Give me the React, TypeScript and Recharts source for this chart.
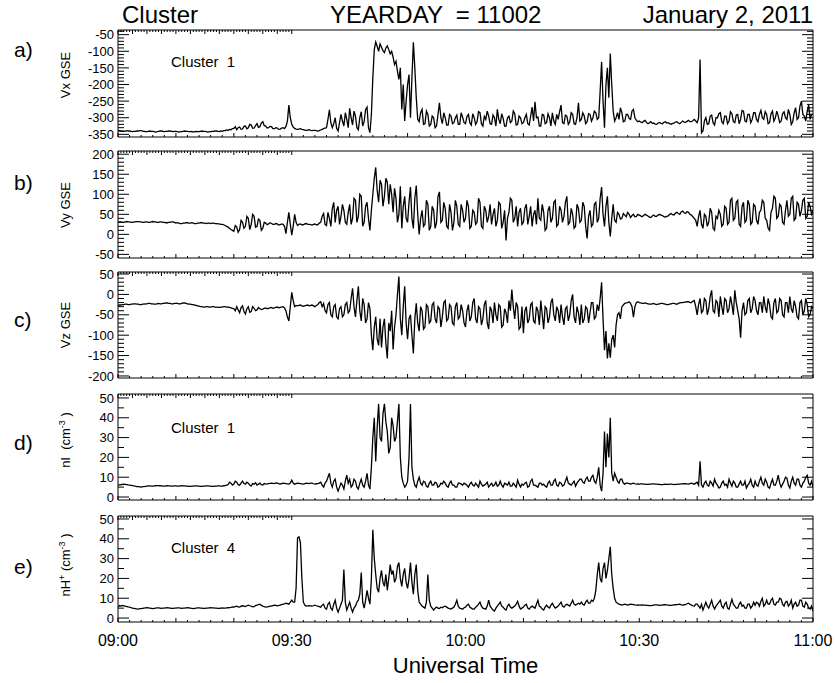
import React from 'react';
import { LineChart, Line, XAxis, YAxis } from 'recharts';

// Cluster plasma moments, 2 Jan 2011, 09:00-11:00 UT, one sample every 15 s
const STEP = 0.25; // minutes between samples
const timeLabels = ['09:00', '09:30', '10:00', '10:30', '11:00'];
const labelTicks = [0, 30, 60, 90, 120];

const vxGse = [
  -338, -339, -340, -341, -341, -340, -339, -340, -340, -341, -342, -341, -341, -340, -340, -339, -339, -340, -341, -342,
  -342, -341, -340, -341, -341, -342, -343, -342, -341, -340, -340, -341, -342, -341, -341, -340, -340, -341, -342, -341,
  -341, -342, -343, -342, -342, -341, -340, -341, -341, -342, -342, -341, -343, -342, -341, -342, -342, -341, -340, -341,
  -341, -342, -343, -342, -342, -341, -341, -340, -340, -341, -342, -340, -341, -339, -339, -337, -338, -335, -336, -333,
  -332, -327, -336, -330, -328, -335, -334, -326, -325, -333, -330, -320, -322, -332, -331, -324, -318, -329, -327, -316,
  -312, -324, -325, -331, -330, -326, -327, -333, -333, -330, -331, -335, -334, -331, -330, -333, -326, -310, -262, -300,
  -320, -328, -332, -334, -335, -334, -333, -335, -336, -337, -338, -337, -336, -338, -339, -338, -338, -339, -340, -339,
  -337, -335, -333, -331, -330, -305, -276, -315, -330, -318, -300, -332, -340, -315, -290, -310, -325, -285, -305, -330,
  -272, -300, -322, -280, -295, -330, -336, -300, -282, -325, -312, -275, -268, -330, -345, -290, -180, -95, -72, -85,
  -100, -78, -88, -98, -104, -90, -84, -95, -108, -100, -118, -140, -130, -160, -185, -150, -275, -200, -310, -250,
  -200, -170, -300, -180, -73, -150, -240, -305, -312, -285, -275, -320, -318, -280, -290, -325, -320, -295, -300, -330,
  -325, -290, -255, -300, -318, -285, -300, -322, -322, -290, -295, -318, -315, -300, -292, -320, -320, -285, -298, -315,
  -318, -296, -290, -315, -322, -288, -300, -320, -312, -282, -285, -318, -325, -296, -305, -280, -295, -318, -320, -292,
  -300, -325, -275, -305, -318, -288, -302, -325, -325, -300, -295, -315, -310, -280, -288, -322, -320, -295, -300, -318,
  -315, -300, -290, -318, -322, -295, -268, -310, -252, -300, -298, -325, -325, -290, -292, -318, -315, -288, -300, -325,
  -285, -310, -320, -290, -305, -282, -262, -315, -318, -292, -295, -320, -312, -285, -290, -318, -320, -300, -255, -310,
  -305, -285, -295, -318, -312, -288, -290, -310, -300, -280, -285, -305, -300, -220, -132, -250, -330, -200, -150, -240,
  -107, -200, -280, -310, -300, -285, -305, -270, -285, -312, -310, -290, -290, -302, -305, -280, -275, -300, -308, -312,
  -310, -313, -315, -311, -308, -314, -318, -315, -312, -317, -316, -319, -320, -316, -314, -317, -318, -314, -312, -316,
  -315, -318, -320, -317, -316, -313, -312, -316, -318, -314, -310, -313, -314, -311, -308, -312, -312, -309, -305, -310,
  -315, -300, -125, -345, -340, -310, -300, -320, -318, -295, -292, -315, -322, -300, -300, -288, -285, -312, -318, -295,
  -295, -318, -310, -282, -288, -312, -315, -292, -290, -318, -305, -278, -280, -310, -312, -290, -290, -315, -305, -285,
  -285, -305, -312, -290, -278, -300, -305, -282, -290, -318, -315, -288, -280, -310, -300, -280, -295, -315, -310, -288,
  -282, -300, -305, -275, -290, -320, -312, -285, -270, -305, -300, -265, -250, -290, -295, -310, -280, -262, -305, -290,
  -290,
];

const vyGse = [
  30, 31, 31, 30, 30, 31, 32, 31, 31, 30, 30, 31, 31, 32, 32, 31, 31, 30, 30, 31,
  31, 30, 30, 31, 32, 31, 31, 30, 30, 31, 31, 30, 30, 29, 29, 30, 30, 31, 31, 30,
  28, 29, 28, 27, 27, 28, 28, 29, 29, 28, 28, 29, 28, 27, 27, 28, 28, 29, 29, 28,
  28, 27, 28, 28, 27, 28, 28, 27, 27, 26, 26, 25, 25, 24, 22, 20, 18, 15, 12, 10,
  8, 22, 18, 5, 12, 35, 30, 15, 20, 45, 40, 12, 25, 50, 45, 18, 20, 38, 35, 10,
  15, 30, 28, 24, 26, 29, 27, 25, 25, 27, 26, 23, 24, 26, 25, 20, 2, 30, 55, 25,
  -2, 20, 50, 30, 22, 25, 26, 24, 24, 26, 27, 25, 25, 24, 23, 25, 26, 24, 24, 28,
  30, 45, 52, 25, 22, 55, 40, 20, 65, 80, 30, 60, 70, 25, 45, 75, 60, 30, 25, 55,
  75, 25, 40, 90, 85, 30, 45, 100, 95, 20, 30, 70, 80, 40, 10, 60, 100, 140, 167, 110,
  80, 135, 125, 70, 95, 140, 130, 75, 125, 100, 55, 115, 90, 30, 50, 120, 15, 70, 95, 40,
  30, 80, 118, 40, 15, 90, 122, 50, 0, 40, 60, 20, 25, 85, 75, 10, 20, 70, 60, 15,
  30, 95, 106, 30, 35, 80, 65, 20, 15, 75, 55, 10, 30, 85, 70, 25, 20, 75, 60, 30,
  40, 85, 70, 15, 20, 60, 55, 25, 30, 90, 80, 20, 15, 70, 60, 30, 45, 75, 25, 50,
  65, 20, 35, 80, 75, 15, 30, 60, -15, 40, 55, 90, 85, 30, 40, 70, 20, 55, 65, 25,
  30, 65, 75, 25, 45, 70, 20, 50, 60, 25, 90, 40, 35, 75, 55, 10, 15, 60, 70, 30,
  40, 80, 85, 20, 25, 70, 60, 30, 45, 80, 95, 25, 30, 65, 50, 15, 20, 75, 65, 30,
  35, 80, 70, 20, -10, 45, 60, 20, 25, 75, 80, 30, 40, 90, 118, 50, 20, 70, 95, 30,
  -5, 40, 75, 35, 30, 55, 50, 38, 40, 52, 48, 44, 55, 50, 42, 47, 50, 44, 45, 50,
  48, 46, 44, 47, 50, 48, 46, 43, 42, 46, 48, 45, 45, 48, 50, 48, 47, 44, 43, 45,
  46, 50, 52, 49, 48, 53, 55, 52, 50, 56, 58, 54, 52, 57, 55, 50, 48, 44, 40, 35,
  20, 45, 60, 25, 15, 50, 45, 20, 30, 65, 55, 15, 10, 45, 40, 60, 50, 20, 25, 70,
  65, 25, 30, 85, 90, 35, 40, 80, 85, 25, 20, 70, 80, 30, 35, 85, 75, 25, 30, 75,
  70, 35, 25, 55, 60, 85, 80, 40, 35, 15, 10, 55, 65, 95, 90, 40, 45, 75, 70, 30,
  25, 60, 85, 45, 50, 90, 95, 35, 40, 80, 75, 45, 60, 85, 90, 40, 45, 80, 70, 50,
  60,
];

const vzGse = [
  -27, -26, -26, -25, -25, -24, -24, -25, -25, -24, -24, -23, -23, -24, -24, -25, -25, -24, -24, -23,
  -23, -22, -22, -23, -23, -24, -24, -23, -22, -23, -23, -22, -22, -21, -21, -22, -22, -23, -23, -22,
  -22, -22, -23, -23, -22, -21, -21, -22, -23, -24, -24, -25, -25, -26, -27, -28, -29, -30, -30, -31,
  -31, -30, -30, -31, -31, -30, -30, -31, -31, -32, -32, -31, -31, -30, -30, -31, -31, -32, -33, -34,
  -35, -40, -30, -38, -45, -32, -28, -42, -48, -35, -30, -44, -42, -30, -34, -40, -38, -32, -35, -37,
  -36, -34, -33, -35, -34, -33, -32, -34, -33, -32, -31, -33, -32, -31, -30, -33, -40, -55, -65, -30,
  5, -15, -30, -27, -28, -27, -26, -28, -29, -28, -27, -26, -28, -27, -26, -28, -30, -27, -25, -20,
  -18, -30, -22, -40, -45, -25, -20, -50, -55, -30, -25, -55, -60, -35, -30, -55, -50, -25, -20, -45,
  -40, -10, 15, -30, -55, -15, 20, -40, -65, -10, -25, -70, -60, -20, -35, -100, -137, -80, -55, -110,
  -125, -60, -130, -80, -60, -120, -157, -70, -90, -40, -135, -80, -50, 0, 44, -60, -100, -30, 20, -70,
  -110, -60, -50, -100, -145, -60, -22, -70, -90, -30, -40, -85, -80, -25, -30, -70, -65, -25, -20, -60,
  -70, -30, -35, -80, -55, -20, -15, -65, -60, -25, -30, -70, -75, -30, -20, -60, -55, -25, -40, -70,
  -80, -40, -25, -65, -55, -20, -10, -60, -70, -30, -35, -75, -60, -25, -15, -70, -85, -30, -40, -70,
  -20, -50, -65, -25, -30, -80, -75, -35, -45, -70, -15, -40, 12, -30, -60, -20, -30, -85, -80, -30,
  -95, -40, -30, -70, -60, -25, -20, -65, -70, -30, -40, -75, -15, -50, -85, -30, -35, -70, -55, -20,
  -10, -50, -65, -30, -40, -70, -25, -55, -75, -35, -30, -65, -50, -15, 0, -55, -70, -30, -45, -75,
  -25, -70, -60, -30, -35, -70, -45, -20, -20, -60, -55, -25, -40, -10, 30, -60, -137, -90, -157, -120,
  -155, -110, -100, -130, -75, -50, -45, -60, -30, -26, -22, -21, -20, -18, -22, -30, -56, -30, -20, -18,
  -20, -21, -22, -22, -21, -22, -23, -24, -24, -23, -22, -24, -25, -24, -23, -22, -22, -23, -24, -25,
  -25, -24, -23, -22, -22, -23, -24, -22, -21, -20, -20, -19, -19, -18, -18, -20, -20, -17, -15, -30,
  -50, -25, -10, -45, -40, -10, -15, -50, -35, -5, 10, -40, -45, -15, -20, -55, -5, -30, -50, -10,
  -15, -45, -35, -5, -25, -50, 10, -20, -40, -60, -106, -40, -20, -50, -45, -15, -10, -45, -35, -5,
  -15, -40, -50, -20, -20, -45, -5, -30, -45, -10, -25, -55, -60, -20, -10, -45, -40, -10, -15, -50,
  -55, -20, -20, -45, -5, -35, -45, -15, -30, -55, -60, -20, -15, -50, -40, -10, -25, -55, -50, -30,
  -35,
];

const nIon = [
  6, 6.1, 6.2, 6.4, 6.5, 6.4, 6.3, 6.1, 6, 5.9, 5.8, 5.6, 5.5, 5.3, 5.2, 5.1, 5, 5.2, 5.3, 5.4,
  5.5, 5.6, 5.6, 5.5, 5.5, 5.6, 5.7, 5.8, 5.8, 5.7, 5.6, 5.5, 5.5, 5.6, 5.7, 5.6, 5.6, 5.5, 5.5, 5.6,
  5.6, 5.5, 5.5, 5.6, 5.7, 5.6, 5.6, 5.5, 5.5, 5.4, 5.4, 5.5, 5.5, 5.6, 5.6, 5.5, 5.5, 5.4, 5.4, 5.5,
  5.5, 5.6, 5.6, 5.5, 5.5, 5.4, 5.4, 5.5, 5.5, 5.6, 5.6, 5.5, 5.5, 5.7, 5.8, 6, 6.2, 7.5, 7, 6,
  6.5, 8, 7.5, 6.2, 6, 7, 8, 6.8, 6.5, 7.5, 7, 6, 5.5, 6.8, 6.5, 7.2, 6, 6.5, 7, 6.2,
  6, 6.8, 6.5, 6.6, 6.8, 6.9, 7, 6.9, 6.8, 7.1, 7, 6.8, 6.5, 6.8, 7, 6.9, 6.8, 6.6, 6.5, 7,
  8.5, 7, 6.5, 6.8, 7, 6.9, 6.8, 6.6, 6.5, 6.8, 7, 6.9, 6.8, 7, 7, 6.7, 6.5, 6.7, 6.8, 7,
  7.5, 6, 5, 7, 8, 10, 12, 7, 5, 8, 9, 5, 3, 5, 7, 6, 4, 8, 11, 7,
  9, 5, 6, 9, 8, 5, 4, 7, 9, 6, 5, 8, 12, 6, 4, 15, 30, 40, 18, 35,
  47, 30, 28, 42, 47, 38, 33, 22, 25, 40, 36, 28, 30, 38, 47, 20, 10, 7, 5, 6,
  8, 20, 47, 15, 9, 6, 5, 8, 10, 7, 6, 8, 7.5, 5.5, 5, 7, 8, 6, 6, 7.5,
  7, 5, 5.5, 7, 6.5, 8, 7, 5.5, 5, 7, 8, 6, 6, 5, 5, 7, 7, 6.5, 6, 7,
  6.5, 6, 5, 6.5, 7.5, 6, 5.5, 7, 6, 5, 8, 6.5, 5.5, 6, 6.5, 7.5, 5, 6, 7, 5.5,
  6, 7.5, 5.5, 6, 8, 6, 5, 7, 6.5, 6, 7.5, 5.5, 5.5, 7, 6, 5, 8.5, 6.5, 5, 6.5,
  6, 7, 7.5, 5, 5.5, 8, 9, 6, 6, 5.5, 5, 7, 7, 6, 6.5, 5.5, 5, 7, 8, 6,
  6, 8, 9, 6, 5.5, 7.5, 7, 5.5, 6, 8, 10, 7, 6.5, 6, 7, 8, 5.5, 7, 8, 9,
  9, 7.5, 7, 9, 10, 8, 8, 10, 11, 8, 7, 10, 15, 6, 3, 12, 33, 15, 32, 20,
  40, 12, 8, 12, 10, 8, 7, 9, 9, 7, 6.5, 7, 7, 6.8, 6.5, 6.8, 7, 6.7, 6.5, 6.6,
  6.5, 6.6, 6.6, 6.5, 6.5, 6.4, 6.4, 6.5, 6.5, 6.6, 6.6, 6.5, 6.5, 6.4, 6.4, 6.3, 6.3, 6.4, 6.5, 6.4,
  6.4, 6.5, 6.5, 6.4, 6.3, 6.4, 6.4, 6.5, 6.5, 6.6, 6.6, 6.7, 6.8, 6.6, 6.5, 6.8, 7, 6.8, 6.5, 7,
  7.5, 6, 18, 6, 5, 7, 8, 6, 5.5, 8, 7, 5.5, 9, 7, 6, 4.5, 5, 7, 8, 6,
  6.5, 5, 9, 7, 5.5, 8, 7, 5, 5, 6.5, 8, 6, 6, 8, 4.5, 6, 7, 9, 6, 5,
  8, 6, 5.5, 8, 10, 7, 6, 9, 7.5, 5, 4.5, 7, 9, 6, 6, 8, 11, 7, 5, 6.5,
  8, 10, 9.5, 6, 4.5, 8, 10, 7, 6, 9, 9, 6, 5, 7, 8, 10, 11, 7, 6, 8,
  5,
];

const nProton = [
  5.5, 6.3, 6, 6.4, 6.2, 6, 5.8, 5.6, 5.5, 5.2, 5, 4.9, 4.8, 4.6, 4.5, 4.7, 4.8, 4.9, 5, 5.1,
  5.2, 5.1, 5, 4.9, 4.8, 4.9, 5, 5.1, 5.1, 5, 4.9, 5, 5, 5.1, 5.2, 5.1, 5, 4.9, 4.9, 5,
  5, 5.1, 5.1, 5, 4.9, 5, 5, 5.1, 5.2, 5.1, 5, 4.9, 4.8, 4.9, 5, 5.1, 5.1, 5, 5, 4.9,
  4.9, 5, 5, 5.1, 5.2, 5.1, 5.1, 5, 5, 4.9, 4.9, 5, 5.1, 5, 5, 5.1, 5.2, 5.3, 5.4, 5.6,
  5.5, 5.8, 6, 5.6, 5.5, 6, 6.2, 6, 5.8, 6.2, 6.5, 6.2, 6, 5.7, 5.8, 6.3, 6.5, 6.8, 7, 6.4,
  6, 5.7, 5.5, 5.6, 5.8, 6, 6, 6.3, 6.5, 6.4, 6.2, 6.4, 6.5, 6.8, 7, 7.2, 7.5, 7.3, 7, 8,
  9, 8, 8, 15, 40.5, 41, 38, 20, 8, 6.5, 6, 6.1, 6.2, 6.1, 6, 6.2, 6.5, 6.2, 6, 5.8,
  5.5, 6.5, 7, 5, 4.5, 7, 8, 5, 4, 7, 9, 5, 3, 5, 7, 9, 24.5, 8, 4, 6,
  8, 5, 3, 5, 6, 8, 9, 12, 23, 8, 5, 9, 14, 10, 7, 20, 44.5, 30, 22, 15,
  13, 20, 24, 18, 16, 22, 14, 20, 27, 22, 24, 18, 20, 26, 28, 20, 16, 22, 25, 18,
  15, 20, 28, 18, 12, 22, 27, 14, 8, 7, 6, 5.5, 5, 8, 22, 9, 6, 5, 4, 5,
  5.5, 5, 4.8, 5.5, 5.2, 5.8, 6, 5.5, 5, 4.8, 4.5, 5, 5.5, 7, 9, 6, 5, 4.8, 4.5, 5.2,
  5.5, 6.5, 7, 5.5, 5, 4.5, 4.5, 5.5, 6, 7, 8, 6, 5, 4.8, 4.5, 6, 9, 6, 5, 4,
  3.5, 5, 6, 7, 8, 6, 5.5, 4.5, 4, 6, 7, 5.5, 5, 5.5, 6, 7, 8.5, 6, 4.5, 5,
  5.5, 6.5, 7, 5, 4.5, 5.5, 6, 5.5, 5, 7, 9, 6, 5.5, 4.5, 4, 5.5, 6.5, 5.5, 5, 6.5,
  7.5, 6, 5, 5.5, 6, 7, 8, 6, 5.5, 6.5, 7, 6.5, 6, 7.5, 9, 7, 6.5, 7, 7.5, 7,
  8, 7, 6.5, 8, 9, 7.5, 7.5, 9, 8.5, 10, 14, 22, 28, 20, 18, 25, 28, 20, 24, 30,
  36, 22, 15, 10, 8, 7.5, 7, 6.8, 6.5, 6.8, 7, 6.8, 6.5, 6.8, 7, 6.9, 6.8, 6.6, 6.5, 6.6,
  6.5, 6.5, 6.6, 6.5, 6.5, 6.4, 6.4, 6.3, 6.3, 6.4, 6.5, 6.6, 6.6, 6.5, 6.4, 6.5, 6.5, 6.7, 6.8, 6.6,
  6.5, 6.4, 6.4, 6.5, 6.6, 6.7, 6.8, 6.9, 7, 6.7, 6.5, 6.7, 6.8, 7.2, 7.5, 7, 6.5, 6.2, 6, 7,
  7, 6, 5, 7, 4, 6, 8, 6, 5, 7, 9, 6, 4.5, 6, 7, 8, 9, 6, 5, 7,
  8, 5, 4.5, 7, 9.5, 7, 6, 5, 5, 7, 8, 6, 6.5, 5, 5, 7, 7, 5, 6, 8,
  6.5, 8, 7.5, 6, 8.5, 10, 6, 7, 9, 7, 7, 9, 10, 7, 6.5, 8, 8, 10, 9.5, 7,
  6, 8, 8.5, 6, 7, 9, 5, 7, 8, 6, 6.5, 9, 9, 6, 5.5, 8, 7, 5, 4.5, 6,
  3.5,
];

const FONT = '"Liberation Sans", Arial, Helvetica, sans-serif';
const WIDTH = 837;
const HEIGHT = 683;
const PLOT_LEFT = 118;
const PLOT_RIGHT = 813;

function steps(from: number, to: number, by: number) {
  const out: number[] = [];
  for (let v = from; v <= to + 1e-9; v += by) out.push(Math.round(v * 100) / 100);
  return out;
}

const timeTicks = steps(0, 120, 2);

const panels = [
  { id: 'a', values: vxGse, top: 30, bottom: 137, domain: [-358, -36], majorStep: 50, minor: steps(-350, -40, 10) },
  { id: 'b', values: vyGse, top: 151, bottom: 258, domain: [-59, 208], majorStep: 50, minor: steps(-50, 200, 10) },
  { id: 'c', values: vzGse, top: 272, bottom: 378, domain: [-205, 55], majorStep: 50, minor: steps(-200, 50, 10) },
  { id: 'd', values: nIon, top: 394, bottom: 500, domain: [-1.5, 52], majorStep: 10, minor: steps(0, 50, 5) },
  { id: 'e', values: nProton, top: 516, bottom: 622, domain: [-2, 51.5], majorStep: 10, minor: steps(0, 50, 5) },
];

const isMult = (v: number, s: number) => Math.abs(v / s - Math.round(v / s)) < 1e-6;

// custom tick: inward tick line, optional label outside the box
function tickMaker(side: 'left' | 'right' | 'top' | 'bottom', majorStep: number, majorLen: number, minorLen: number, withLabel = false) {
  return (props: any) => {
    const { x, y, payload } = props;
    const v = payload.value;
    const major = isMult(v, majorStep);
    const len = major ? majorLen : minorLen;
    let line;
    if (side === 'left') line = <line x1={x} x2={x + len} y1={y} y2={y} stroke="#000" />;
    else if (side === 'right') line = <line x1={x} x2={x - len} y1={y} y2={y} stroke="#000" />;
    else if (side === 'top') line = <line x1={x} x2={x} y1={y} y2={y + len} stroke="#000" />;
    else line = <line x1={x} x2={x} y1={y} y2={y - len} stroke="#000" />;
    let label = null;
    if (withLabel && side === 'left' && major) {
      label = (
        <text x={x - 4} y={y} dy="0.36em" textAnchor="end" fontSize={13} fontFamily={FONT} fill="#000">
          {String(v)}
        </text>
      );
    }
    if (withLabel && side === 'bottom' && labelTicks.includes(v)) {
      label = (
        <text x={x} y={y + 24} textAnchor="middle" fontSize={16} fontFamily={FONT} fill="#000">
          {timeLabels[labelTicks.indexOf(v)]}
        </text>
      );
    }
    return (
      <g>
        {line}
        {label}
      </g>
    );
  };
}

function Panel({ cfg, last }: { cfg: (typeof panels)[number]; last: boolean }) {
  const pad = 10;
  const axisH = last ? 34 : 0;
  const plotH = cfg.bottom - cfg.top;
  const rows = cfg.values.map((v, i) => ({ t: i * STEP, v }));
  return (
    <div style={{ position: 'absolute', left: 0, top: cfg.top - pad }}>
      <LineChart
        width={WIDTH}
        height={plotH + 2 * pad + axisH}
        data={rows}
        margin={{ top: pad, right: WIDTH - PLOT_RIGHT, bottom: pad, left: 0 }}
      >
        <XAxis
          xAxisId="b"
          dataKey="t"
          type="number"
          domain={[0, 120]}
          allowDataOverflow
          ticks={timeTicks}
          interval={0}
          orientation="bottom"
          mirror={!last}
          height={last ? axisH : 30}
          tickSize={0}
          tickMargin={0}
          tickLine={false}
          axisLine={{ stroke: '#000' }}
          tick={tickMaker('bottom', 10, 4, 2, last)}
        />
        <XAxis
          xAxisId="t"
          type="number"
          domain={[0, 120]}
          allowDataOverflow
          ticks={timeTicks}
          interval={0}
          orientation="top"
          mirror
          tickSize={0}
          tickMargin={0}
          tickLine={false}
          axisLine={{ stroke: '#000' }}
          tick={tickMaker('top', 10, 4, 2)}
        />
        <YAxis
          yAxisId="L"
          type="number"
          domain={cfg.domain}
          allowDataOverflow
          ticks={cfg.minor}
          interval={0}
          width={PLOT_LEFT}
          tickSize={0}
          tickMargin={0}
          tickLine={false}
          axisLine={{ stroke: '#000' }}
          tick={tickMaker('left', cfg.majorStep, 11, 6, true)}
        />
        <YAxis
          yAxisId="R"
          type="number"
          orientation="right"
          mirror
          domain={cfg.domain}
          allowDataOverflow
          ticks={cfg.minor}
          interval={0}
          tickSize={0}
          tickMargin={0}
          tickLine={false}
          axisLine={{ stroke: '#000' }}
          tick={tickMaker('right', cfg.majorStep, 11, 6)}
        />
        <Line
          xAxisId="b"
          yAxisId="L"
          type="linear"
          dataKey="v"
          stroke="#000"
          strokeWidth={1.3}
          dot={false}
          isAnimationActive={false}
        />
      </LineChart>
    </div>
  );
}

const panelTags = [
  { text: 'a)', y: 50 },
  { text: 'b)', y: 183 },
  { text: 'c)', y: 320 },
  { text: 'd)', y: 443 },
  { text: 'e)', y: 567 },
];

export default function App() {
  return (
    <div style={{ position: 'absolute', left: 0, top: 0, width: WIDTH, height: HEIGHT, background: '#fff', fontFamily: FONT }}>
      {panels.map((p, i) => (
        <Panel key={p.id} cfg={p} last={i === panels.length - 1} />
      ))}
      <svg width={WIDTH} height={HEIGHT} style={{ position: 'absolute', left: 0, top: 0, pointerEvents: 'none' }} fontFamily={FONT} fill="#000">
        <text x={122} y={23} fontSize={24}>Cluster</text>
        <text x={330} y={23} fontSize={24} style={{ whiteSpace: 'pre' }}>{'YEARDAY  = 11002'}</text>
        <text x={813} y={23} fontSize={24} textAnchor="end">January 2, 2011</text>

        {panelTags.map((t) => (
          <text key={t.text} x={14} y={t.y + 7} fontSize={21}>{t.text}</text>
        ))}

        <text x={70} y={75} fontSize={13} textAnchor="middle" transform="rotate(-90 70 75)">Vx GSE</text>
        <text x={70} y={205} fontSize={13} textAnchor="middle" transform="rotate(-90 70 205)">Vy GSE</text>
        <text x={70} y={325} fontSize={13} textAnchor="middle" transform="rotate(-90 70 325)">Vz GSE</text>
        <text x={70} y={440} fontSize={13} textAnchor="middle" transform="rotate(-90 70 440)" style={{ whiteSpace: 'pre' }}>
          {'nI  (cm'}<tspan dy={-5} fontSize={9}>-3</tspan><tspan dy={5}>{' )'}</tspan>
        </text>
        <text x={70} y={565} fontSize={13} textAnchor="middle" transform="rotate(-90 70 565)" style={{ whiteSpace: 'pre' }}>
          {'nH'}<tspan dy={-5} fontSize={9}>+</tspan><tspan dy={5}>{' (cm'}</tspan><tspan dy={-5} fontSize={9}>-3</tspan><tspan dy={5}>{' )'}</tspan>
        </text>

        <text x={171} y={67} fontSize={15} style={{ whiteSpace: 'pre' }}>{'Cluster  1'}</text>
        <text x={171} y={433} fontSize={15} style={{ whiteSpace: 'pre' }}>{'Cluster  1'}</text>
        <text x={171} y={553} fontSize={15} style={{ whiteSpace: 'pre' }}>{'Cluster  4'}</text>

        <text x={(PLOT_LEFT + PLOT_RIGHT) / 2} y={673} fontSize={22} textAnchor="middle">Universal Time</text>
      </svg>
    </div>
  );
}
